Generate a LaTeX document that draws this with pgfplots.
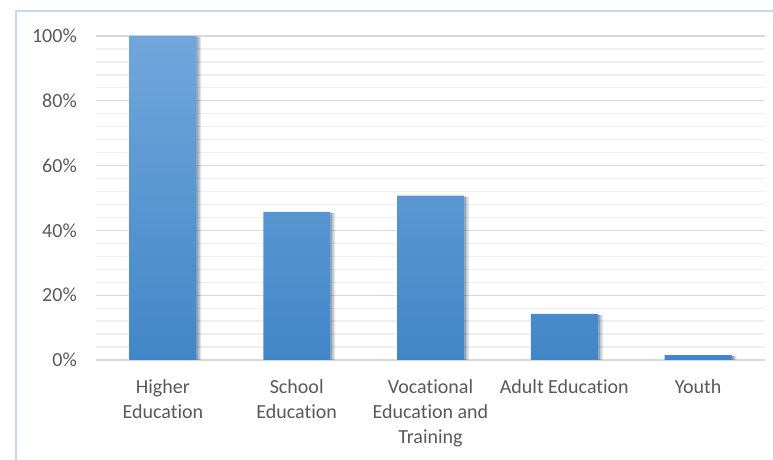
\documentclass[border=0pt]{standalone}
\usepackage{pgfplots}
\pgfplotsset{compat=1.18}
\usepackage{fontspec}
\setmainfont{Carlito}[Ligatures=NoCommon]
\usetikzlibrary{shadows}
\definecolor{txt}{HTML}{595959}
\definecolor{majgrid}{HTML}{D9D9D9}
\definecolor{mingrid}{HTML}{EFEFEF}
\definecolor{frame}{HTML}{C6D9F3}
\definecolor{bartop}{HTML}{71A6DB}
\definecolor{barmid}{HTML}{5599DB}
\definecolor{barbot}{HTML}{4286C8}
\begin{document}
\begin{tikzpicture}
\path[use as bounding box] (0,0) rectangle (773bp,460bp);
\draw[frame, line width=2bp] (16bp,-5bp) -- (16bp,449bp) -- (780bp,449bp);
\begin{axis}[
  at={(96bp,100bp)}, anchor=south west,
  scale only axis, width=669bp, height=324bp,
  xmin=-0.5, xmax=4.5, ymin=0, ymax=100,
  axis lines*=left,
  axis line style={draw=none},
  major tick length=0pt, minor tick length=0pt,
  tick style={draw=none},
  xtick={0,1,2,3,4},
  xticklabels={{Higher\\Education},{School\\Education},{Vocational\\Education and\\Training},{Adult Education},{Youth}},
  ytick={0,20,40,60,80,100},
  minor y tick num=4,
  ymajorgrids, yminorgrids,
  major grid style={majgrid, line width=1.3bp},
  minor grid style={mingrid, line width=1.3bp},
  yticklabel={\pgfmathprintnumber{\tick}\%},
  /pgf/number format/assume math mode=true,
  tick label style={font=\fontsize{20bp}{25bp}\selectfont, text=txt, inner sep=0pt},
  xticklabel style={align=center, anchor=north, yshift=-19bp},
  yticklabel style={anchor=east, xshift=-19bp},
  ybar, bar width=0.5,
]
\addplot[draw=none, top color=bartop, middle color=barmid, bottom color=barbot,
  drop shadow={shadow xshift=5bp, shadow yshift=-1bp, fill=black, opacity=0.07},
  drop shadow={shadow xshift=3.5bp, shadow yshift=-1bp, fill=black, opacity=0.1},
  drop shadow={shadow xshift=2bp, shadow yshift=-1bp, fill=black, opacity=0.14}]
  coordinates {(0,100) (1,45.7) (2,50.7) (3,14.2) (4,1.5)};
\end{axis}
\end{tikzpicture}
\end{document}
